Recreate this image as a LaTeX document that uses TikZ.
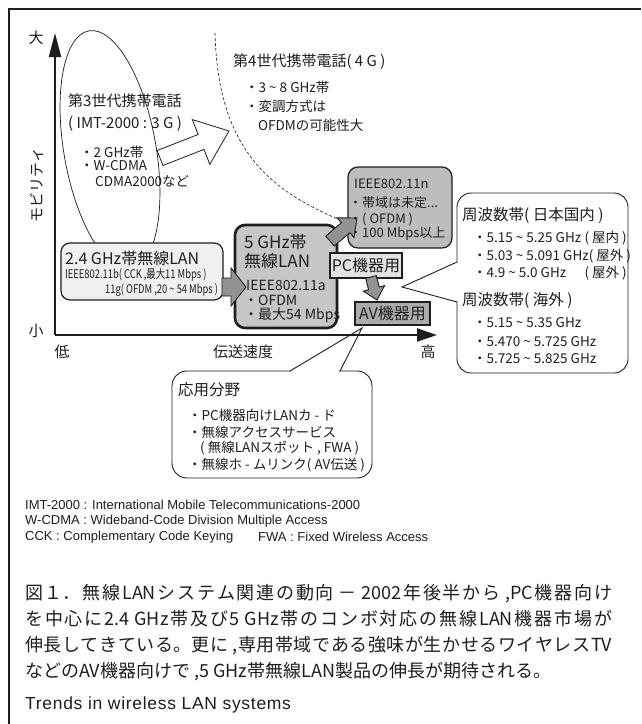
\documentclass[tikz,border=0pt]{standalone}
\usepackage{fontspec}
\setmainfont{Noto Sans CJK JP}
\newfontfamily\condf[FakeStretch=0.78]{Noto Sans CJK JP}
\newfontfamily\arialf{Liberation Sans}
\newfontfamily\trendsf[LetterSpace=4]{Liberation Sans}
\usetikzlibrary{arrows.meta,calc,shapes.geometric}
\newcommand\fsz[1]{\fontsize{#1}{#1}\selectfont}
\newcommand\tld{\textasciitilde}
\newcommand\capline[1]{\parbox[b]{587pt}{\parfillskip=0pt\XeTeXlinebreaklocale "ja"\XeTeXlinebreakskip=0pt plus 4pt\relax #1}}
% block arrow: style, tail, tip, shaft half width, head half width, head length
\newcommand\blockarrow[6]{%
  \coordinate (#2-#3-n) at ($(#3)!#6!(#2)$);
  \draw[#1] ($(#2)!#4!90:(#3)$) -- ($(#2-#3-n)!#4!90:(#3)$) -- ($(#2-#3-n)!#5!90:(#3)$) -- (#3)
     -- ($(#2-#3-n)!#5!-90:(#3)$) -- ($(#2-#3-n)!#4!-90:(#3)$) -- ($(#2)!#4!-90:(#3)$) -- cycle;}
\definecolor{ink}{HTML}{1E1E1E}
\definecolor{box24}{HTML}{F0F0F0}
\definecolor{box5}{HTML}{C6C6C6}
\definecolor{box11n}{HTML}{BDBDBD}
\definecolor{boxpc}{HTML}{E3E3E3}
\definecolor{boxav}{HTML}{ABABAB}
\definecolor{agray}{HTML}{929292}
\tikzset{
  lbl/.style={anchor=west, inner sep=0pt, text=ink},
  ctr/.style={inner sep=0pt, text=ink},
  bx/.style={draw=ink, line width=1.2pt, inner sep=0pt, outer sep=0pt},
  callout/.style={draw=ink, line width=0.9pt, fill=white, rounded corners=14pt, inner sep=0pt, outer sep=0pt},
  barrow/.style={draw=ink, fill=agray, line width=0.9pt, line join=miter},
}
\begin{document}
\begin{tikzpicture}[x=1pt,y=-1pt]
\useasboundingbox (0,0) rectangle (641,724);
\fill[white] (0,0) rectangle (641,724);
% frame
\coordinate (fr1) at (9,724); \coordinate (fr2) at (9,9); \coordinate (fr3) at (641,9);
\draw[ink, line width=1.6pt] (fr1) -- (fr2) -- (fr3);
% 3G ellipse
\node[draw=ink, line width=0.7pt, ellipse, minimum width=92pt, minimum height=242pt, inner sep=0pt, rotate=10] (g3) at (110,150) {};
% 4G boundary
\coordinate (d0) at (215,33); \coordinate (d1) at (340,220);
\draw[ink, dash pattern=on 3pt off 2pt, line width=0.6pt] (d0) .. controls (218,150) and (270,190) .. (d1);
% 3G texts
\node[lbl, font=\fsz{15}] (t3a) at (68,101) {第3世代携帯電話};
\node[lbl, font=\fsz{15}] (t3b) at (68,124) {( IMT-2000 : 3 G )};
\node[lbl, font=\fsz{13.5}] (t3c) at (80,152) {・2 GHz帯};
\node[lbl, font=\fsz{13.5}] (t3d) at (80,166) {・W-CDMA};
\node[lbl, font=\fsz{13.5}] (t3e) at (95,181) {CDMA2000など};
% 4G texts
\node[lbl, font=\fsz{15}] (t4a) at (233,62) {第4世代携帯電話( 4 G )};
\node[lbl, font=\fsz{13.5}] (t4b) at (245,87) {・3 \tld{} 8 GHz帯};
\node[lbl, font=\fsz{13.5}] (t4c) at (245,106) {・変調方式は};
\node[lbl, font=\fsz{13.5}] (t4d) at (258,125) {OFDMの可能性大};
% hollow arrow 3G -> 4G
\coordinate (h3t) at (160,158); \coordinate (h3h) at (229,131);
\blockarrow{draw=ink, fill=white, line width=0.8pt, line join=miter}{h3t}{h3h}{8pt}{24pt}{30pt}
% axes
\coordinate (O) at (55,335); \coordinate (ytop) at (55,33); \coordinate (xend) at (437,335);
\draw[ink, line width=2pt, -{Triangle[width=12pt,length=24pt]}] (O) -- (ytop);
\draw[ink, line width=2pt, -{Triangle[width=13pt,length=20pt]}] (O) -- (xend);
\node[ctr, font=\fsz{15}] (lbig) at (36,38) {大};
\node[ctr, font=\fsz{15}] (lsmall) at (36,331) {小};
\node[ctr, font=\fsz{15}] (llow) at (62,352) {低};
\node[ctr, font=\fsz{15}] (lspd) at (243,352) {伝送速度};
\node[ctr, font=\fsz{15}] (lhigh) at (428,352) {高};
\node[ctr, font=\fsz{15}, rotate=90] (lmob) at (37,185) {モビリティ};
% boxes
\node[bx, fill=box24, rounded corners=9pt, minimum width=162pt, minimum height=57pt] (b24) at (142,271.5) {};
\node[bx, fill=box5, line width=2.6pt, rounded corners=10pt, minimum width=102pt, minimum height=103pt] (b5) at (286,276.5) {};
\node[bx, fill=box11n, rounded corners=10pt, minimum width=104pt, minimum height=81pt] (b11n) at (400,207.5) {};
\node[bx, fill=boxpc, minimum width=72pt, minimum height=25pt] (bpc) at (366,265.5) {};
\node[bx, fill=boxav, minimum width=75pt, minimum height=23pt] (bav) at (392.5,313.5) {};
% gray arrows
\coordinate (g24t) at (222,287); \coordinate (g24h) at (246,287);
\blockarrow{barrow}{g24t}{g24h}{9pt}{19pt}{15pt}
\coordinate (g5t) at (330,241); \coordinate (g5h) at (357,218);
\blockarrow{barrow}{g5t}{g5h}{6.5pt}{13pt}{15pt}
\coordinate (gpt) at (371,277); \coordinate (gph) at (377,300);
\blockarrow{barrow}{gpt}{gph}{5.5pt}{11pt}{12pt}
% callout: frequencies
\node[callout, minimum width=171pt, minimum height=180pt] (freq) at (542.5,283) {};
\coordinate (fq1) at ($(freq.north west)+(0,69)$);
\coordinate (fq2) at ($(freq.north west)+(0,109)$);
\coordinate (fqtip) at (402,287);
\fill[white] ($(fq1)+(-0.8,0.6)$) rectangle ($(fq2)+(0.8,-0.6)$);
\draw[ink, line width=0.9pt] (fq1) -- (fqtip) -- (fq2);
% callout: applications
\node[callout, minimum width=200pt, minimum height=107pt, rounded corners=15pt] (app) at (272,424.5) {};
\coordinate (ap1) at ($(app.north west)+(118,0)$);
\coordinate (ap2) at ($(app.north west)+(168,0)$);
\coordinate (aptip) at (362,328);
\fill[white] ($(ap1)+(0.6,-0.8)$) rectangle ($(ap2)+(-0.6,0.8)$);
\draw[ink, line width=0.9pt] (ap1) -- (aptip) -- (ap2);
% texts in boxes
\node[lbl, font=\fsz{16}] (t24a) at (65,258) {2.4 GHz帯無線LAN};
\node[lbl, font=\condf\fsz{12}] (t24b) at (65,275) {IEEE802.11b( CCK ,最大11 Mbps )};
\node[lbl, font=\condf\fsz{12}] (t24c) at (105,290) {11g( OFDM ,20 \tld{} 54 Mbps )};
\node[lbl, font=\fsz{17}] (t5a) at (244,242) {5 GHz帯};
\node[lbl, font=\fsz{17}] (t5b) at (244,261) {無線LAN};
\node[lbl, font=\fsz{14}] (t5c) at (246,285) {IEEE802.11a};
\node[lbl, font=\fsz{14}] (t5d) at (244,300) {・OFDM};
\node[lbl, font=\fsz{14}] (t5e) at (244,315) {・最大54 Mbps};
\node[lbl, font=\fsz{13}] (t11a) at (354,184) {IEEE802.11n};
\node[lbl, font=\fsz{13}] (t11b) at (349,203) {・帯域は未定...};
\node[lbl, font=\fsz{13}] (t11c) at (349,219) {・( OFDM )};
\node[lbl, font=\fsz{13}] (t11d) at (349,234) {・100 Mbps以上};
\node[ctr, font=\fsz{16}] (tpc) at (bpc) {PC機器用};
\node[ctr, font=\fsz{16}] (tav) at (bav) {AV機器用};
% frequency texts
\node[lbl, font=\fsz{15.5}] (tf1) at (462,215) {周波数帯( 日本国内 )};
\node[lbl, font=\fsz{13.5}] (tf2) at (473,238) {・5.15 \tld{} 5.25 GHz};
\node[ctr, anchor=east, font=\fsz{13.5}] (tf2b) at (627,238) {( 屋内 )};
\node[lbl, font=\fsz{13.5}] (tf3) at (473,256) {・5.03 \tld{} 5.091 GHz( 屋外 )};
\node[lbl, font=\fsz{13.5}] (tf4) at (473,273) {・4.9 \tld{} 5.0 GHz};
\node[ctr, anchor=east, font=\fsz{13.5}] (tf4b) at (627,273) {( 屋外 )};
\node[lbl, font=\fsz{15.5}] (tf5) at (462,300) {周波数帯( 海外 )};
\node[lbl, font=\fsz{13.5}] (tf6) at (473,323) {・5.15 \tld{} 5.35 GHz};
\node[lbl, font=\fsz{13.5}] (tf7) at (473,342) {・5.470 \tld{} 5.725 GHz};
\node[lbl, font=\fsz{13.5}] (tf8) at (473,359) {・5.725 \tld{} 5.825 GHz};
% application texts
\node[lbl, font=\fsz{15.5}] (ta1) at (178,390) {応用分野};
\node[lbl, font=\fsz{13.5}] (ta2) at (188,415) {・PC機器向けLANカ - ド};
\node[lbl, font=\fsz{13.5}] (ta3) at (188,432) {・無線アクセスサービス};
\node[lbl, font=\fsz{13.5}] (ta4) at (200,448) {( 無線LANスポット , FWA )};
\node[lbl, font=\fsz{13.5}] (ta5) at (188,465) {・無線ホ - ムリンク( AV伝送 )};
% footnotes
\node[lbl, font=\arialf\fsz{13}] (fn1) at (25,505) {IMT-2000 : International Mobile Telecommunications-2000};
\node[lbl, font=\arialf\fsz{13}] (fn2) at (25,521) {W-CDMA : Wideband-Code Division Multiple Access};
\node[lbl, font=\arialf\fsz{13}] (fn3) at (25,537) {CCK : Complementary Code Keying};
\node[lbl, font=\arialf\fsz{13}] (fn4) at (258,537) {FWA : Fixed Wireless Access};
% caption
\node[ctr, anchor=base west, font=\fsz{18}] (cap1) at (25,599) {\capline{図１．無線LANシステム関連の動向 － 2002年後半から ,PC機器向け}};
\node[ctr, anchor=base west, font=\fsz{18}] (cap2) at (25,625) {\capline{を中心に2.4 GHz帯及び5 GHz帯のコンボ対応の無線LAN機器市場が}};
\node[ctr, anchor=base west, font=\fsz{18}] (cap3) at (25,651) {\capline{伸長してきている。更に ,専用帯域である強味が生かせるワイヤレスTV}};
\node[ctr, anchor=base west, font=\fsz{18}] (cap4) at (25,677) {などのAV機器向けで ,5 GHz帯無線LAN製品の伸長が期待される。};
\node[ctr, anchor=base west, font=\trendsf\fsz{17.5}] (trend) at (25,709) {Trends in wireless LAN systems};
\end{tikzpicture}
\end{document}
